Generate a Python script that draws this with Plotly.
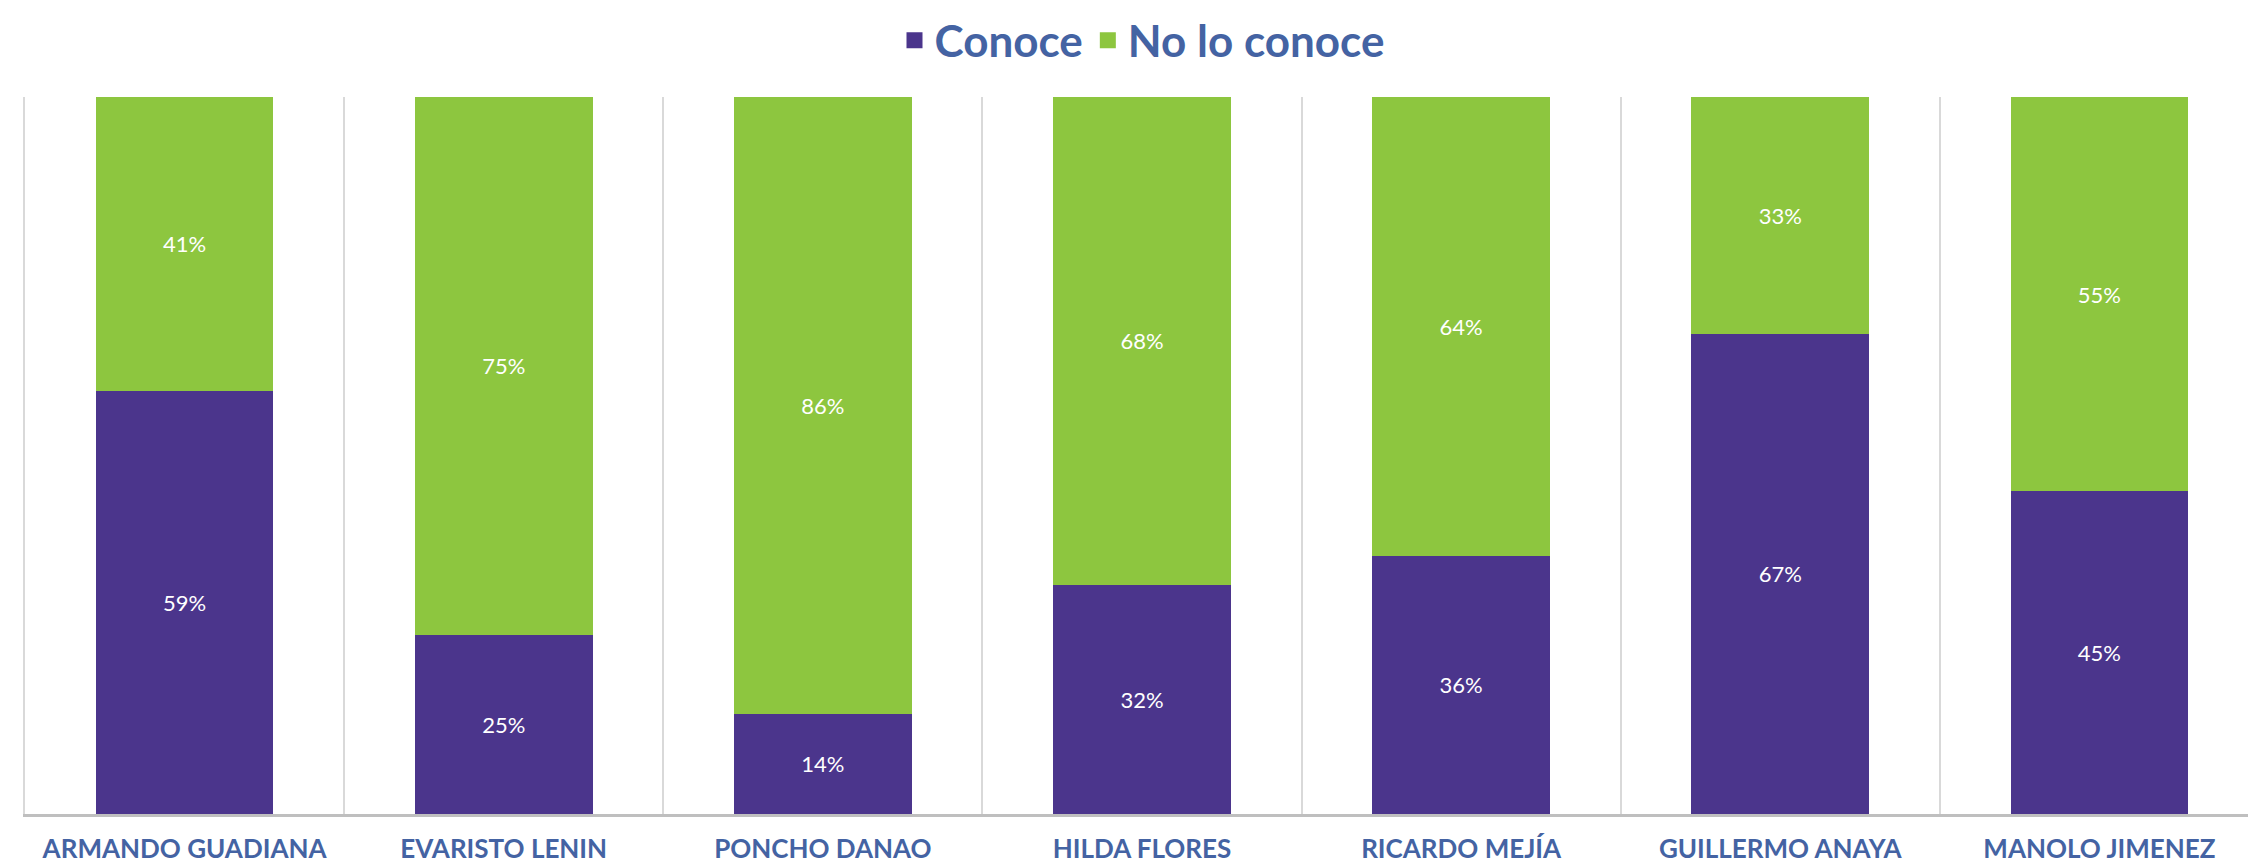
import plotly.graph_objects as go

candidates = ["ARMANDO GUADIANA", "EVARISTO LENIN", "PONCHO DANAO", "HILDA FLORES",
              "RICARDO MEJÍA", "GUILLERMO ANAYA", "MANOLO JIMENEZ"]
conoce = [59, 25, 14, 32, 36, 67, 45]
no_conoce = [41, 75, 86, 68, 64, 33, 55]
series_names = ["Conoce", "No lo conoce"]

PURPLE = "#4B358C"
GREEN = "#8DC63F"
BLUE_TEXT = "#4463A3"

fig = go.Figure()
for name, vals, col in [(series_names[0], conoce, PURPLE), (series_names[1], no_conoce, GREEN)]:
    fig.add_trace(go.Bar(
        x=candidates, y=vals, name=name, marker_color=col,
        marker_line_width=0, showlegend=False,
        text=[f"{v}%" for v in vals], textposition="inside",
        insidetextanchor="middle", textangle=0,
        textfont=dict(color="white", size=22, family="Lato"),
    ))
# legend entries with larger square swatches
for name, col in [(series_names[0], PURPLE), (series_names[1], GREEN)]:
    fig.add_trace(go.Scatter(
        x=[None], y=[None], mode="markers", name=name,
        marker=dict(symbol="square", size=28, color=col),
    ))

fig.update_layout(
    barmode="stack",
    bargap=0.443,
    width=2256, height=860,
    margin=dict(l=17, r=3, t=89, b=54),
    paper_bgcolor="white", plot_bgcolor="white",
    uniformtext=dict(minsize=22, mode="show"),
    legend=dict(
        orientation="h", x=0.5, xanchor="center",
        yref="container", y=0.962, yanchor="middle",
        font=dict(family="Lato", size=44, color=BLUE_TEXT, weight="bold"),
        itemsizing="trace", itemwidth=30, traceorder="normal",
    ),
)
fig.update_xaxes(
    type="category", tickson="boundaries", showgrid=True,
    gridcolor="#D9D9D9", gridwidth=2,
    showline=True, linecolor="#BFBFBF", linewidth=3,
    ticks="", ticklabelstandoff=10,
    tickfont=dict(family="Lato", size=26, color=BLUE_TEXT, weight="bold"),
)
fig.update_yaxes(range=[0, 100], showticklabels=False, showgrid=False,
                 zeroline=False, showline=True, mirror=True,
                 linecolor="#D9D9D9", linewidth=2, ticks="")

fig.write_html("out.html")
